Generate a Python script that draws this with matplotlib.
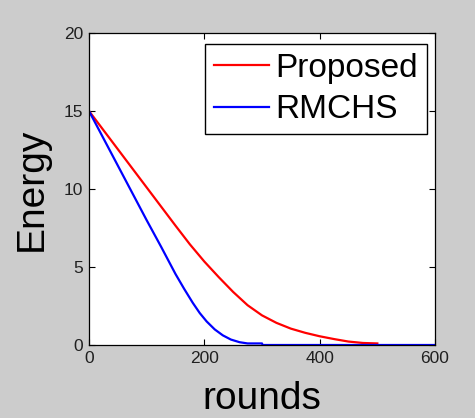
import matplotlib
matplotlib.use("Agg")
import matplotlib.pyplot as plt

plt.rcParams['font.family'] = ['Liberation Sans', 'DejaVu Sans']

rounds_proposed = [0, 50, 100, 150, 175, 200, 225, 250, 275, 300, 325, 350, 375, 400, 425, 450, 475, 500]
energy_proposed = [15, 12.55, 10.1, 7.65, 6.45, 5.35, 4.35, 3.4, 2.55, 1.9, 1.42, 1.05, 0.78, 0.56, 0.38, 0.22, 0.13, 0.1]

rounds_rmchs = [0, 50, 100, 125, 150, 165, 180, 192, 204, 218, 232, 246, 261, 275, 300, 301, 600]
energy_rmchs = [15, 11.5, 8.0, 6.3, 4.55, 3.6, 2.7, 2.05, 1.51, 1.0, 0.62, 0.35, 0.18, 0.1, 0.1, 0.0, 0.0]

xticks = [0, 200, 400, 600]
yticks = [0, 5, 10, 15, 20]

fig = plt.figure(figsize=(4.75, 4.18), dpi=100, facecolor='#cccccc')
ax = fig.add_axes([89/475, 1 - 345/418, (435-89)/475, (345-33)/418])
ax.plot(rounds_proposed, energy_proposed, color='#ff0000', lw=1.6, label='Proposed')
ax.plot(rounds_rmchs, energy_rmchs, color='#0000ff', lw=1.6, label='RMCHS')
ax.set_xlim(0, 600)
ax.set_ylim(0, 20)
ax.set_xticks(xticks)
ax.set_yticks(yticks)
ax.tick_params(direction='in', top=True, right=True, labelsize=12.5, length=4, pad=4,
               colors='black', labelcolor='#202020')
for s in ax.spines.values():
    s.set_linewidth(0.9)
ax.set_xlabel('rounds', fontsize=28, labelpad=11)
ax.set_ylabel('Energy', fontsize=28, labelpad=10)
leg = ax.legend(loc='upper right', bbox_to_anchor=(1 - 8/346, 1 - 11/312), borderaxespad=0,
                fontsize=24, handlelength=1.66, handletextpad=0.2, labelspacing=0.32,
                borderpad=0.26, fancybox=False, framealpha=1, edgecolor='black')
leg.get_frame().set_linewidth(1.0)
fig.savefig('out.png', dpi=100, facecolor=fig.get_facecolor())
